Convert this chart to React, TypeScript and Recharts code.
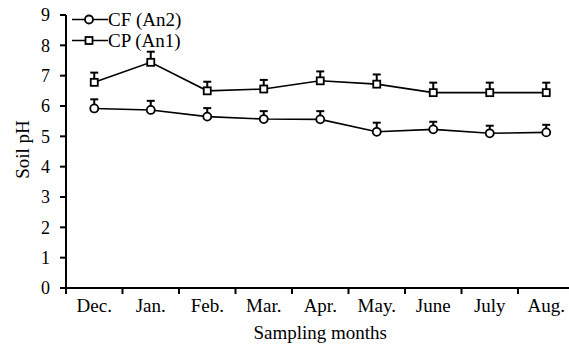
import React from 'react';
import { LineChart, Line, XAxis, YAxis, ErrorBar, Legend } from 'recharts';

const months = ['Dec.', 'Jan.', 'Feb.', 'Mar.', 'Apr.', 'May.', 'June', 'July', 'Aug.'];
const cfValues = [5.92, 5.87, 5.65, 5.57, 5.56, 5.15, 5.23, 5.1, 5.13];
const cpValues = [6.78, 7.44, 6.5, 6.56, 6.83, 6.72, 6.44, 6.44, 6.44];
const cfErrors = [0.3, 0.3, 0.28, 0.26, 0.27, 0.3, 0.25, 0.25, 0.25];
const cpErrors = [0.32, 0.35, 0.3, 0.3, 0.31, 0.32, 0.33, 0.33, 0.33];
const yTicks = [0, 1, 2, 3, 4, 5, 6, 7, 8, 9];

const data = months.map((m, i) => ({
  month: m,
  cf: cfValues[i],
  cp: cpValues[i],
  cfErr: [0, cfErrors[i]],
  cpErr: [0, cpErrors[i]],
}));

const FONT = '"Liberation Serif", "Times New Roman", serif';
const TICK_SIZE = 6;
const TICK_MARGIN = 5;

const SquareDot = (props: any) => {
  const { cx, cy, index } = props;
  if (cx == null || cy == null) return <g key={`s${index}`} />;
  return (
    <rect key={`s${index}`} x={cx - 3.5} y={cy - 3.5} width={7} height={7} fill="#fff" stroke="#000" strokeWidth={1.8} />
  );
};

// category label at the band centre, tick mark at the band's left boundary
const XTick = (props: any) => {
  const { x, y, payload, width, visibleTicksCount, index } = props;
  const step = width / (visibleTicksCount || months.length);
  const axisY = y - TICK_SIZE - TICK_MARGIN;
  const bx = x - step / 2;
  const isLast = index === (visibleTicksCount || months.length) - 1;
  return (
    <g>
      <line x1={bx} y1={axisY} x2={bx} y2={axisY + TICK_SIZE} stroke="#000" strokeWidth={2} />
      {isLast ? (
        <line x1={x + step / 2} y1={axisY} x2={x + step / 2} y2={axisY + TICK_SIZE} stroke="#000" strokeWidth={2} />
      ) : null}
      <text x={x} y={y} dy="0.71em" textAnchor="middle" fill="#000" fontFamily={FONT} fontSize={19}>
        {payload.value}
      </text>
    </g>
  );
};

const YTick = (props: any) => {
  const { x, y, payload } = props;
  return (
    <text x={x} y={y} dy="0.355em" textAnchor="end" fill="#000" fontFamily={FONT} fontSize={18}>
      {payload.value}
    </text>
  );
};

const LegendContent = (props: any) => {
  const { payload } = props;
  return (
    <div style={{ fontFamily: FONT, fontSize: 19, color: '#000' }}>
      {(payload || []).map((p: any) => (
        <div key={p.value} style={{ display: 'flex', alignItems: 'center', height: 21 }}>
          <svg width={36} height={21} style={{ display: 'block' }}>
            <line x1={0} y1={10.5} x2={36} y2={10.5} stroke="#000" strokeWidth={1.6} />
            {p.dataKey === 'cf' ? (
              <circle cx={17} cy={10.5} r={4} fill="#fff" stroke="#000" strokeWidth={1.8} />
            ) : (
              <rect x={13.5} y={7} width={7} height={7} fill="#fff" stroke="#000" strokeWidth={1.8} />
            )}
          </svg>
          <span style={{ lineHeight: '21px', whiteSpace: 'nowrap', fontFamily: FONT }}>{p.value}</span>
        </div>
      ))}
    </div>
  );
};

export default function App() {
  return (
    <div style={{ position: 'absolute', left: 0, top: 0, width: 569, height: 348, overflow: 'hidden', background: '#fff', fontFamily: FONT }}>
      <LineChart width={580} height={348} data={data} margin={{ top: 15, right: 5.5, bottom: 0, left: 0 }} style={{ fontFamily: FONT }}>
        <XAxis
          dataKey="month"
          height={60}
          axisLine={{ stroke: '#000', strokeWidth: 2 }}
          tickLine={false}
          tickSize={TICK_SIZE}
          tickMargin={TICK_MARGIN}
          interval={0}
          padding={{ left: 28.25, right: 28.25 }}
          tick={<XTick />}
          label={(p: any) => {
            const vb = p.viewBox || { x: 66, y: 288, width: 508.5, height: 60 };
            return (
              <text x={vb.x + vb.width / 2} y={vb.y + 44} textAnchor="middle" dominantBaseline="central" fill="#000" style={{ fontFamily: FONT, fontSize: 19 }}>
                Sampling months
              </text>
            );
          }}
        />
        <YAxis
          width={66}
          domain={[0, 9]}
          ticks={yTicks}
          interval={0}
          tickSize={6}
          tickMargin={10}
          axisLine={{ stroke: '#000', strokeWidth: 2 }}
          tickLine={{ stroke: '#000', strokeWidth: 2 }}
          tick={<YTick />}
          label={(p: any) => {
            const vb = p.viewBox || { x: 0, y: 15, width: 66, height: 273 };
            const cx = vb.x + 22;
            const cy = vb.y + vb.height / 2 - 2;
            return (
              <text transform={`translate(${cx}, ${cy}) rotate(-90)`} textAnchor="middle" dominantBaseline="central" fill="#000" style={{ fontFamily: FONT, fontSize: 19 }}>
                Soil pH
              </text>
            );
          }}
        />
        <Legend
          layout="horizontal"
          verticalAlign="middle"
          align="center"
          content={<LegendContent />}
          wrapperStyle={{ position: 'absolute', top: 9, left: 72, width: 'auto', height: 'auto' }}
        />
        <Line
          dataKey="cf"
          name="CF (An2)"
          stroke="#000"
          strokeWidth={1.6}
          isAnimationActive={false}
          dot={{ r: 4, fill: '#fff', stroke: '#000', strokeWidth: 1.8 }}
          activeDot={false}
        >
          <ErrorBar dataKey="cfErr" width={4} stroke="#000" strokeWidth={2} direction="y" isAnimationActive={false} />
        </Line>
        <Line
          dataKey="cp"
          name="CP (An1)"
          stroke="#000"
          strokeWidth={1.6}
          isAnimationActive={false}
          dot={SquareDot}
          activeDot={false}
        >
          <ErrorBar dataKey="cpErr" width={4} stroke="#000" strokeWidth={2} direction="y" isAnimationActive={false} />
        </Line>
      </LineChart>
    </div>
  );
}
